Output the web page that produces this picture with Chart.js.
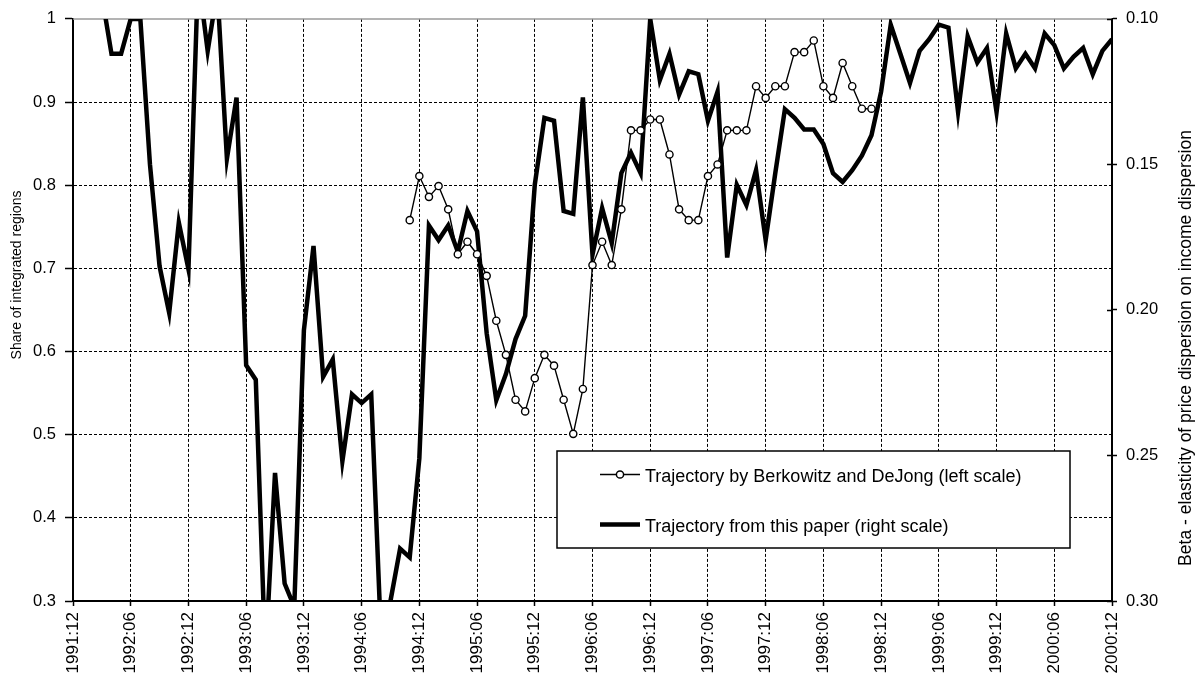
<!DOCTYPE html>
<html>
<head>
<meta charset="utf-8">
<script src="https://cdn.jsdelivr.net/npm/chart.js@4.4.1/dist/chart.umd.min.js"></script>
<style>
html,body{margin:0;padding:0;background:#fff;}
#wrap{width:1195px;height:678px;position:relative;}
</style>
</head>
<body>
<div id="wrap"><canvas id="c"></canvas></div>
<script>
// ---- categories (months) ----
const categories = [
  '1991:12',
  '1992:01','1992:02','1992:03','1992:04','1992:05','1992:06','1992:07','1992:08','1992:09','1992:10','1992:11','1992:12',
  '1993:01','1993:02','1993:03','1993:04','1993:05','1993:06','1993:07','1993:08','1993:09','1993:10','1993:11','1993:12',
  '1994:01','1994:02','1994:03','1994:04','1994:05','1994:06','1994:07','1994:08','1994:09','1994:10','1994:11','1994:12',
  '1995:01','1995:02','1995:03','1995:04','1995:05','1995:06','1995:07','1995:08','1995:09','1995:10','1995:11','1995:12',
  '1996:01','1996:02','1996:03','1996:04','1996:05','1996:06','1996:07','1996:08','1996:09','1996:10','1996:11','1996:12',
  '1997:01','1997:02','1997:03','1997:04','1997:05','1997:06','1997:07','1997:08','1997:09','1997:10','1997:11','1997:12',
  '1998:01','1998:02','1998:03','1998:04','1998:05','1998:06','1998:07','1998:08','1998:09','1998:10','1998:11','1998:12',
  '1999:01','1999:02','1999:03','1999:04','1999:05','1999:06','1999:07','1999:08','1999:09','1999:10','1999:11','1999:12',
  '2000:01','2000:02','2000:03','2000:04','2000:05','2000:06','2000:07','2000:08','2000:09','2000:10','2000:11','2000:12'
];

// ---- Berkowitz & DeJong trajectory (left scale), 1991:12 .. 2000:12 ----
const berkowitzDeJong = [
  null,
  null,null,null,null,null,null,null,null,null,null,null,null,
  null,null,null,null,null,null,null,null,null,null,null,null,
  null,null,null,null,null,null,null,null,null,null,0.758,0.811,
  0.786,0.799,0.771,0.717,0.732,0.717,0.691,0.637,0.596,0.542,0.528,0.568,
  0.596,0.583,0.542,0.501,0.555,0.704,0.732,0.704,0.771,0.866,0.866,0.879,
  0.879,0.837,0.771,0.758,0.758,0.811,0.825,0.866,0.866,0.866,0.919,0.905,
  0.919,0.919,0.960,0.960,0.974,0.919,0.905,0.947,0.919,0.892,0.892,null,
  null,null,null,null,null,null,null,null,null,null,null,null,
  null,null,null,null,null,null,null,null,null,null,null,null
];

// ---- Trajectory from this paper (right scale, reversed), 1991:12 .. 2000:12 ----
const thisPaper = [
  0.085,
  0.080,0.088,0.092,0.112,0.112,0.100,0.100,0.150,0.185,0.201,0.170,0.186,
  0.085,0.111,0.090,0.148,0.127,0.219,0.224,0.320,0.256,0.294,0.302,0.207,
  0.178,0.223,0.217,0.252,0.229,0.232,0.229,0.311,0.300,0.282,0.285,0.251,
  0.171,0.176,0.171,0.180,0.166,0.173,0.208,0.231,0.222,0.210,0.202,0.157,
  0.134,0.135,0.166,0.167,0.127,0.181,0.165,0.177,0.153,0.146,0.153,0.100,
  0.121,0.112,0.126,0.118,0.119,0.135,0.125,0.182,0.157,0.164,0.152,0.176,
  0.153,0.131,0.134,0.138,0.138,0.143,0.153,0.156,0.152,0.147,0.140,0.125,
  0.102,0.112,0.122,0.111,0.107,0.102,0.103,0.132,0.106,0.115,0.110,0.132,
  0.105,0.117,0.112,0.117,0.105,0.109,0.117,0.113,0.110,0.119,0.111,0.107
];

// ---- tick labels ----
const leftTickLabels  = ['0.3','0.4','0.5','0.6','0.7','0.8','0.9','1'];
const rightTickLabels = ['0.10','0.15','0.20','0.25','0.30'];

const legendLabels = [
  'Trajectory by Berkowitz and DeJong (left scale)',
  'Trajectory from this paper (right scale)'
];
const leftTitle  = 'Share of integrated regions';
const rightTitle = 'Beta - elasticity of price dispersion on income dispersion';

const FONT = "'Liberation Sans', Arial, Helvetica, sans-serif";

const overlay = {
  id: 'overlay',
  beforeDatasetsDraw(chart) {
    const {ctx, chartArea: a} = chart;
    ctx.save();
    ctx.strokeStyle = '#9a9a9a';
    ctx.lineWidth = 1.5;
    ctx.beginPath();
    ctx.moveTo(a.left, a.top);
    ctx.lineTo(a.right, a.top);
    ctx.stroke();
    ctx.restore();
  },
  afterDraw(chart) {
    const {ctx, chartArea: a} = chart;
    ctx.save();
    // inward tick stubs on the right axis
    const s2 = chart.scales.y2;
    ctx.strokeStyle = '#000';
    ctx.lineWidth = 1.5;
    s2.ticks.forEach(t => {
      const y = Math.round(s2.getPixelForValue(t.value)) + 0.5;
      ctx.beginPath();
      ctx.moveTo(a.right - 5, y);
      ctx.lineTo(a.right, y);
      ctx.stroke();
    });

    // legend box
    const bx = 557, by = 451, bw = 513, bh = 97;
    ctx.fillStyle = '#fff';
    ctx.fillRect(bx, by, bw, bh);
    ctx.strokeStyle = '#000';
    ctx.lineWidth = 1.5;
    ctx.strokeRect(bx, by, bw, bh);

    // sample 1: thin line with circle
    ctx.lineWidth = 1.5;
    ctx.beginPath();
    ctx.moveTo(600, 474.5);
    ctx.lineTo(640, 474.5);
    ctx.stroke();
    ctx.beginPath();
    ctx.arc(620, 474.5, 3.6, 0, Math.PI * 2);
    ctx.fillStyle = '#fff';
    ctx.fill();
    ctx.stroke();
    // sample 2: thick line
    ctx.lineWidth = 4.5;
    ctx.beginPath();
    ctx.moveTo(600, 524.5);
    ctx.lineTo(640, 524.5);
    ctx.stroke();

    ctx.fillStyle = '#000';
    ctx.font = '18px ' + FONT;
    ctx.textAlign = 'left';
    ctx.textBaseline = 'alphabetic';
    ctx.fillText(legendLabels[0], 645, 482);
    ctx.fillText(legendLabels[1], 645, 532);

    // axis titles
    ctx.textAlign = 'center';
    ctx.textBaseline = 'middle';
    ctx.font = '14px ' + FONT;
    ctx.save();
    ctx.translate(17, 275);
    ctx.rotate(-Math.PI / 2);
    ctx.fillText(leftTitle, 0, 0);
    ctx.restore();
    ctx.font = '17.5px ' + FONT;
    ctx.save();
    ctx.translate(1186, 348);
    ctx.rotate(-Math.PI / 2);
    ctx.fillText(rightTitle, 0, 0);
    ctx.restore();
    ctx.restore();
  }
};

new Chart(document.getElementById('c'), {
  type: 'line',
  data: {
    labels: categories,
    datasets: [
      {
        label: legendLabels[0],
        data: berkowitzDeJong,
        yAxisID: 'y',
        order: 0,
        borderColor: '#000',
        borderWidth: 1.4,
        pointRadius: 3.6,
        pointBorderWidth: 1.4,
        pointBackgroundColor: '#fff',
        pointBorderColor: '#000',
        fill: false,
        tension: 0
      },
      {
        label: legendLabels[1],
        data: thisPaper,
        yAxisID: 'y2',
        order: 1,
        borderColor: '#000',
        borderWidth: 4.5,
        pointRadius: 0,
        fill: false,
        tension: 0,
        clip: 0
      }
    ]
  },
  options: {
    responsive: true,
    maintainAspectRatio: false,
    animation: false,
    devicePixelRatio: 1,
    layout: { padding: { top: 16, left: 0, right: 0, bottom: 0 } },
    plugins: { legend: { display: false }, tooltip: { enabled: false } },
    scales: {
      x: {
        type: 'category',
        offset: false,
        grid: { color: '#000', tickColor: '#000', lineWidth: 1, tickWidth: 1.5, tickLength: 5 },
        border: { display: true, color: '#000', width: 2, dash: [3, 2] },
        ticks: {
          autoSkip: false, minRotation: 90, maxRotation: 90, padding: 6, color: '#000',
          font: { family: FONT, size: 17, lineHeight: 0.7 },
          callback: (v, i) => (i % 6 === 0 ? categories[i] : null)
        },
        afterFit: s => { s.height = 77; }
      },
      y: {
        position: 'left',
        min: 0.3, max: 1,
        grid: {
          color: c => (c.tick && Math.abs(c.tick.value - 1) < 1e-6 ? 'rgba(0,0,0,0)' : '#000'),
          tickColor: '#000', lineWidth: 1, tickWidth: 1.5, tickLength: 8
        },
        border: { display: true, color: '#000', width: 2, dash: [3, 2] },
        ticks: {
          stepSize: 0.1, padding: 9, color: '#000',
          font: { family: FONT, size: 16.5 },
          callback: v => leftTickLabels[Math.round((v - 0.3) * 10)]
        },
        afterFit: s => { s.width = 73; }
      },
      y2: {
        position: 'right',
        reverse: true,
        min: 0.10, max: 0.30,
        grid: { drawOnChartArea: false, color: '#000', tickColor: '#000', tickWidth: 1.5, tickLength: 5 },
        border: { display: true, color: '#000', width: 2 },
        ticks: {
          stepSize: 0.05, padding: 9, color: '#000',
          font: { family: FONT, size: 16.5 },
          callback: v => rightTickLabels[Math.round((v - 0.1) * 20)]
        },
        afterFit: s => { s.width = 83; }
      }
    }
  },
  plugins: [overlay]
});
</script>
</body>
</html>
